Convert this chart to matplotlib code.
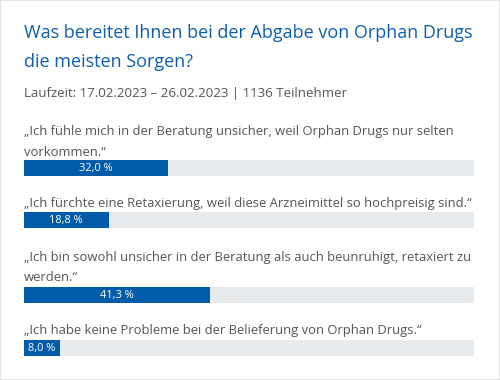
import matplotlib
matplotlib.use("Agg")
import matplotlib.pyplot as plt
from matplotlib.patches import Rectangle

title_lines = ["Was bereitet Ihnen bei der Abgabe von Orphan Drugs", "die meisten Sorgen?"]
subtitle = "Laufzeit: 17.02.2023 \u2013 26.02.2023 | 1136 Teilnehmer"
labels = [
    "\u201eIch fühle mich in der Beratung unsicher, weil Orphan Drugs nur selten\nvorkommen.\u201c",
    "\u201eIch fürchte eine Retaxierung, weil diese Arzneimittel so hochpreisig sind.\u201c",
    "\u201eIch bin sowohl unsicher in der Beratung als auch beunruhigt, retaxiert zu\nwerden.\u201c",
    "\u201eIch habe keine Probleme bei der Belieferung von Orphan Drugs.\u201c",
]
values = [32.0, 18.8, 41.3, 8.0]

FONT = "Open Sans"
BLUE = "#005ca9"
TITLE_BLUE = "#0d5fae"
GRAY = "#555555"
TRACK = "#e8ebee"

W, H, DPI = 500, 380, 100
fig = plt.figure(figsize=(W / DPI, H / DPI), dpi=DPI)
fig.patch.set_facecolor("white")
fig.patches.append(Rectangle((0, 0), 1, 1, transform=fig.transFigure,
                             fill=False, edgecolor="#e2e2e2", linewidth=1.5))

left_px, width_px = 24, 450
ax = fig.add_axes([left_px / W, 0, width_px / W, 1])
ax.set_xlim(0, 100)
ax.set_ylim(H, 0)
ax.axis("off")

# title
for i, line in enumerate(title_lines):
    ax.text(0, 38.5 + i * 28.6, line, fontsize=13.0, color=TITLE_BLUE,
            family=FONT, va="baseline", ha="left")
ax.text(0, 96.5, subtitle, fontsize=9.55, color=GRAY, family=FONT,
        va="baseline", ha="left")

label_first_baseline = [135.0, 207.3, 260.7, 334.3]
line_step = 20.5
bar_top = [160, 212, 287, 340]
bar_h = 16

for lab, base, top, v in zip(labels, label_first_baseline, bar_top, values):
    for j, line in enumerate(lab.split("\n")):
        ax.text(0, base + j * line_step, line, fontsize=9.4, color=GRAY,
                family=FONT, va="baseline", ha="left")
    yc = top + bar_h / 2
    ax.barh(yc, 100, height=bar_h, color=TRACK, left=0)
    ax.barh(yc, v, height=bar_h, color=BLUE, left=0)
    ax.text(v / 2, yc + 0.3, f"{v:.1f}".replace(".", ",") + " %", fontsize=7.9,
            color="white", family=FONT, va="center", ha="center")

fig.savefig("out.png", dpi=DPI, facecolor="white")
